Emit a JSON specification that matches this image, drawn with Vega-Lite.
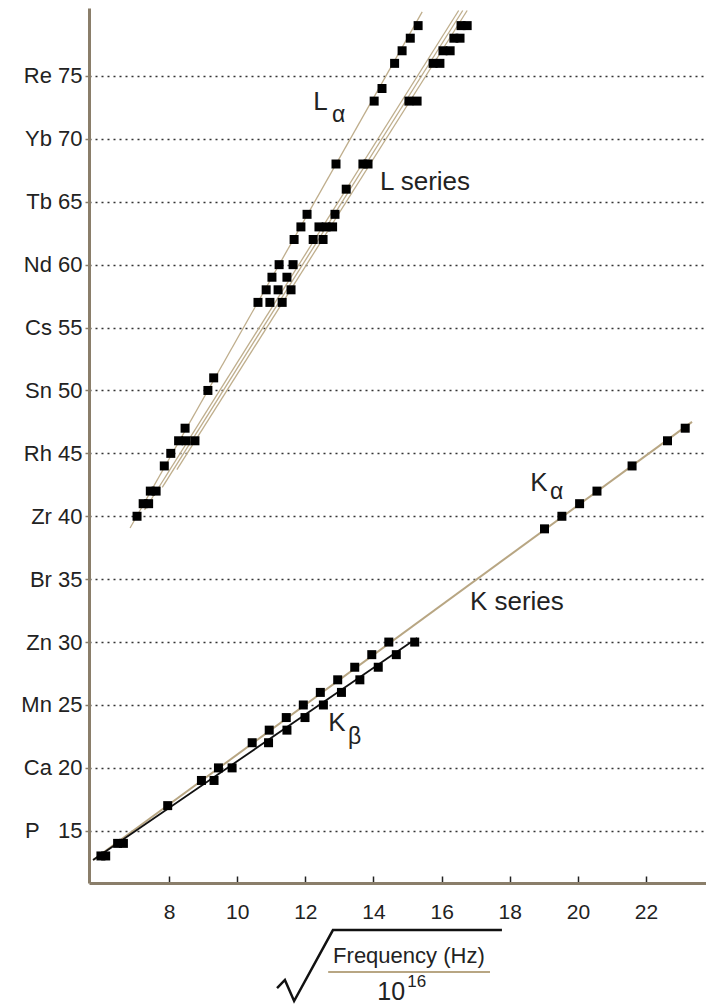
{
  "$schema": "https://vega.github.io/schema/vega-lite/v6.json",
  "width": 617,
  "height": 875,
  "autosize": "none",
  "padding": {"left": 89, "top": 8, "right": 0, "bottom": 124},
  "background": "white",
  "config": {"view": {"stroke": null}, "font": "Liberation Sans"},
  "datasets": {
    "pts": [
      {"s":"Ka","z":13,"x":6.00},{"s":"Ka","z":14,"x":6.49},{"s":"Ka","z":17,"x":7.96},{"s":"Ka","z":19,"x":8.95},{"s":"Ka","z":20,"x":9.45},{"s":"Ka","z":22,"x":10.44},{"s":"Ka","z":23,"x":10.94},{"s":"Ka","z":24,"x":11.44},{"s":"Ka","z":25,"x":11.94},{"s":"Ka","z":26,"x":12.44},{"s":"Ka","z":27,"x":12.95},{"s":"Ka","z":28,"x":13.45},{"s":"Ka","z":29,"x":13.95},{"s":"Ka","z":30,"x":14.45},{"s":"Ka","z":39,"x":19.02},{"s":"Ka","z":40,"x":19.53},{"s":"Ka","z":41,"x":20.05},{"s":"Ka","z":42,"x":20.56},{"s":"Ka","z":44,"x":21.59},{"s":"Ka","z":46,"x":22.63},{"s":"Ka","z":47,"x":23.15},
      {"s":"Kb","z":13,"x":6.14},{"s":"Kb","z":14,"x":6.66},{"s":"Kb","z":19,"x":9.32},{"s":"Kb","z":20,"x":9.85},{"s":"Kb","z":22,"x":10.92},{"s":"Kb","z":23,"x":11.46},{"s":"Kb","z":24,"x":11.99},{"s":"Kb","z":25,"x":12.53},{"s":"Kb","z":26,"x":13.06},{"s":"Kb","z":27,"x":13.60},{"s":"Kb","z":28,"x":14.14},{"s":"Kb","z":29,"x":14.67},{"s":"Kb","z":30,"x":15.21},
      {"s":"La","z":40,"x":7.06},{"s":"La","z":41,"x":7.24},{"s":"La","z":42,"x":7.45},{"s":"La","z":44,"x":7.86},{"s":"La","z":45,"x":8.05},{"s":"La","z":46,"x":8.28},{"s":"La","z":47,"x":8.47},{"s":"La","z":50,"x":9.14},{"s":"La","z":51,"x":9.31},{"s":"La","z":57,"x":10.61},{"s":"La","z":58,"x":10.85},{"s":"La","z":59,"x":11.02},{"s":"La","z":60,"x":11.23},{"s":"La","z":62,"x":11.67},{"s":"La","z":63,"x":11.87},{"s":"La","z":64,"x":12.05},{"s":"La","z":68,"x":12.90},{"s":"La","z":73,"x":14.02},{"s":"La","z":74,"x":14.25},{"s":"La","z":76,"x":14.62},{"s":"La","z":77,"x":14.84},{"s":"La","z":78,"x":15.08},{"s":"La","z":79,"x":15.31},
      {"s":"Lb","z":41,"x":7.40},{"s":"Lb","z":42,"x":7.62},{"s":"Lb","z":46,"x":8.50},{"s":"Lb","z":46,"x":8.76},{"s":"Lb","z":57,"x":10.96},{"s":"Lb","z":57,"x":11.32},{"s":"Lb","z":58,"x":11.20},{"s":"Lb","z":58,"x":11.58},{"s":"Lb","z":59,"x":11.46},{"s":"Lb","z":60,"x":11.64},{"s":"Lb","z":62,"x":12.23},{"s":"Lb","z":62,"x":12.52},{"s":"Lb","z":63,"x":12.40},{"s":"Lb","z":63,"x":12.61},{"s":"Lb","z":63,"x":12.80},{"s":"Lb","z":64,"x":12.87},{"s":"Lb","z":66,"x":13.20},{"s":"Lb","z":68,"x":13.69},{"s":"Lb","z":68,"x":13.84},{"s":"Lb","z":73,"x":15.04},{"s":"Lb","z":73,"x":15.28},{"s":"Lb","z":76,"x":15.75},{"s":"Lb","z":76,"x":15.95},{"s":"Lb","z":77,"x":16.04},{"s":"Lb","z":77,"x":16.25},{"s":"Lb","z":78,"x":16.36},{"s":"Lb","z":78,"x":16.54},{"s":"Lb","z":79,"x":16.57},{"s":"Lb","z":79,"x":16.75}
    ],
    "fits": [
      {"line":"Ka","x":5.77,"z":12.68},{"line":"Ka","x":23.35,"z":47.5},
      {"line":"Kb","x":5.77,"z":12.68},{"line":"Kb","x":15.28,"z":30.33},
      {"line":"La","x":6.855,"z":39.07},{"line":"La","x":15.43,"z":80.09},
      {"line":"L2","x":7.28,"z":40.5},{"line":"L2","x":16.50,"z":80.2},
      {"line":"L3","x":7.80,"z":42.3},{"line":"L3","x":16.62,"z":80.2},
      {"line":"L4","x":8.23,"z":43.7},{"line":"L4","x":16.75,"z":80.2}
    ],
    "labels": [
      {"t":"L","role":"big","x":12.23,"z":72.89},
      {"t":"α","role":"sub","x":12.78,"z":71.9},
      {"t":"L series","role":"big","x":14.19,"z":66.57},
      {"t":"K","role":"big","x":18.60,"z":42.65},
      {"t":"α","role":"sub","x":19.18,"z":41.93},
      {"t":"K series","role":"big","x":16.83,"z":33.19},
      {"t":"K","role":"big","x":12.67,"z":23.57},
      {"t":"β","role":"sub","x":13.25,"z":22.46}
    ],
    "radical": [
      {"i":1,"x":11.17,"z":2.50},{"i":2,"x":11.40,"z":3.14},{"i":3,"x":11.67,"z":1.47},{"i":4,"x":12.81,"z":7.11},{"i":5,"x":17.77,"z":7.11}
    ],
    "bar": [
      {"i":1,"x":12.67,"z":3.78},{"i":2,"x":17.42,"z":3.78}
    ],
    "title": [
      {"t":"Frequency (Hz)","role":"main","x":15.04,"z":5.05},
      {"t":"10","role":"base","x":14.52,"z":2.19},
      {"t":"16","role":"exp","x":15.27,"z":2.99}
    ]
  },
  "encoding": {
    "x": {
      "field": "x", "type": "quantitative",
      "scale": {"domain": [5.65, 23.76], "nice": false, "zero": false},
      "axis": {
        "values": [8,10,12,14,16,18,20,22], "title": null, "grid": false,
        "domainColor": "#8a7e6a", "domainWidth": 3,
        "tickColor": "#222222", "tickSize": -7, "tickWidth": 1.5,
        "labelFontSize": 21, "labelColor": "#222222", "labelPadding": 25, "labelFont": "Liberation Sans"
      }
    },
    "y": {
      "field": "z", "type": "quantitative",
      "scale": {"domain": [10.85, 80.4], "nice": false, "zero": false},
      "axis": {
        "values": [15,20,25,30,35,40,45,50,55,60,65,70,75], "title": null,
        "labelExpr": "datum.value == 15 ? 'P\u00a0\u00a0\u00a015' : datum.value == 20 ? 'Ca 20' : datum.value == 25 ? 'Mn 25' : datum.value == 30 ? 'Zn 30' : datum.value == 35 ? 'Br 35' : datum.value == 40 ? 'Zr 40' : datum.value == 45 ? 'Rh 45' : datum.value == 50 ? 'Sn 50' : datum.value == 55 ? 'Cs 55' : datum.value == 60 ? 'Nd 60' : datum.value == 65 ? 'Tb 65' : datum.value == 70 ? 'Yb 70' : 'Re 75'",
        "grid": true, "gridDash": [2, 4], "gridColor": "#333333", "gridWidth": 1.6,
        "domainColor": "#8a7e6a", "domainWidth": 3,
        "tickColor": "#8a7e6a", "tickSize": 4, "tickWidth": 1.5,
        "labelFontSize": 22, "labelColor": "#222222", "labelPadding": 3, "labelFont": "Liberation Sans"
      }
    }
  },
  "layer": [
    {
      "data": {"name": "fits"},
      "transform": [{"filter": "datum.line != 'Kb' && datum.line != 'Ka'"}],
      "mark": {"type": "line", "color": "#bfae8c", "strokeWidth": 1.3},
      "encoding": {"detail": {"field": "line"}}
    },
    {
      "data": {"name": "fits"},
      "transform": [{"filter": "datum.line == 'Ka'"}],
      "mark": {"type": "line", "color": "#b8a683", "strokeWidth": 2},
      "encoding": {"detail": {"field": "line"}}
    },
    {
      "data": {"name": "fits"},
      "transform": [{"filter": "datum.line == 'Kb'"}],
      "mark": {"type": "line", "color": "#111111", "strokeWidth": 1.8},
      "encoding": {"detail": {"field": "line"}}
    },
    {
      "data": {"name": "pts"},
      "mark": {"type": "point", "shape": "square", "filled": true, "color": "#000000", "size": 81, "opacity": 1}
    },
    {
      "data": {"name": "labels"},
      "transform": [{"filter": "datum.role == 'big'"}],
      "mark": {"type": "text", "align": "left", "baseline": "middle", "fontSize": 26, "color": "#222222", "font": "Liberation Sans"},
      "encoding": {"text": {"field": "t"}}
    },
    {
      "data": {"name": "labels"},
      "transform": [{"filter": "datum.role == 'sub'"}],
      "mark": {"type": "text", "align": "left", "baseline": "middle", "fontSize": 23, "color": "#222222", "font": "Liberation Sans"},
      "encoding": {"text": {"field": "t"}}
    },
    {
      "data": {"name": "radical"},
      "mark": {"type": "line", "color": "#111111", "strokeWidth": 2.5, "clip": false},
      "encoding": {"order": {"field": "i"}}
    },
    {
      "data": {"name": "bar"},
      "mark": {"type": "line", "color": "#b8a683", "strokeWidth": 2, "clip": false},
      "encoding": {"order": {"field": "i"}}
    },
    {
      "data": {"name": "title"},
      "transform": [{"filter": "datum.role == 'main'"}],
      "mark": {"type": "text", "align": "center", "baseline": "middle", "fontSize": 22, "color": "#222222", "font": "Liberation Sans"},
      "encoding": {"text": {"field": "t"}}
    },
    {
      "data": {"name": "title"},
      "transform": [{"filter": "datum.role == 'base'"}],
      "mark": {"type": "text", "align": "center", "baseline": "middle", "fontSize": 25, "color": "#222222", "font": "Liberation Sans"},
      "encoding": {"text": {"field": "t"}}
    },
    {
      "data": {"name": "title"},
      "transform": [{"filter": "datum.role == 'exp'"}],
      "mark": {"type": "text", "align": "center", "baseline": "middle", "fontSize": 17, "color": "#222222", "font": "Liberation Sans"},
      "encoding": {"text": {"field": "t"}}
    }
  ]
}
